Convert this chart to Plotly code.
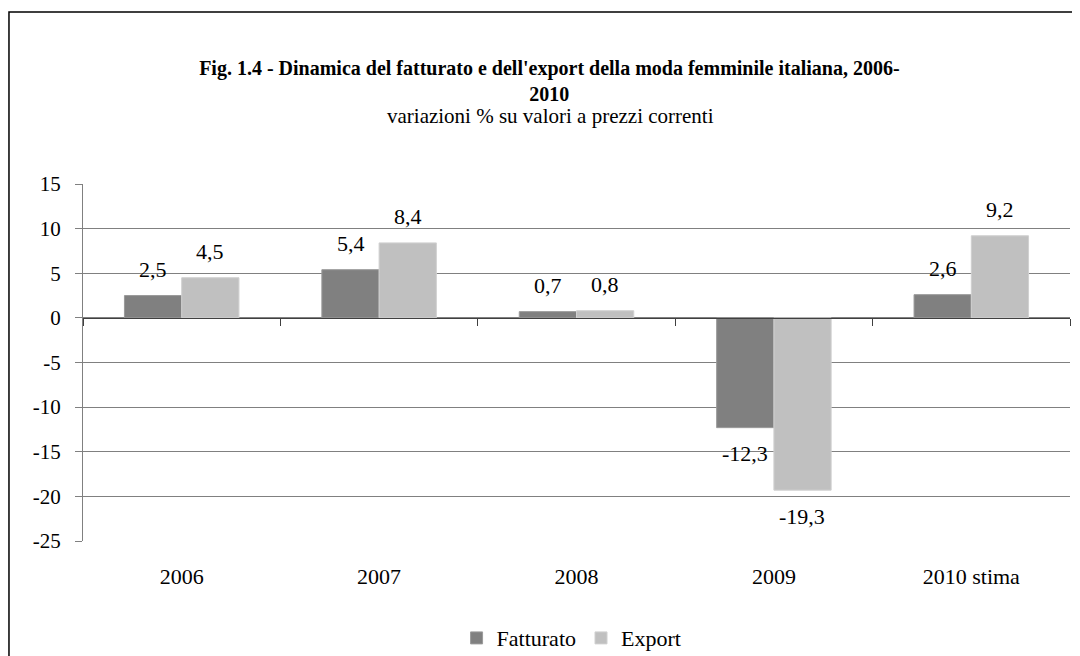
import plotly.graph_objects as go

years = ["2006", "2007", "2008", "2009", "2010 stima"]
fatturato = [2.5, 5.4, 0.7, -12.3, 2.6]
export = [4.5, 8.4, 0.8, -19.3, 9.2]
y_ticks = [15, 10, 5, 0, -5, -10, -15, -20, -25]

FONT = "Liberation Serif"
GRID = "#808080"


def label(v):
    return f"{v:.1f}".replace(".", ",")


fig = go.Figure()
fig.add_trace(go.Bar(
    x=years, y=fatturato, name="Fatturato",
    marker=dict(color="#808080", line=dict(color="#9a9a9a", width=1)),
))
fig.add_trace(go.Bar(
    x=years, y=export, name="Export",
    marker=dict(color="#c0c0c0", line=dict(color="#d0d0d0", width=1)),
))
# invisible trace that gives the zero axis its categories (tick marks on boundaries)
fig.add_trace(go.Scatter(
    x=years, y=[0] * len(years), xaxis="x2", mode="markers",
    marker=dict(opacity=0), hoverinfo="skip", showlegend=False,
))

# data labels at each bar end (category index, since "2006" would read as a number)
for vals, shift in [(fatturato, -28.5), (export, 28.5)]:
    for i, v in enumerate(vals):
        fig.add_annotation(
            x=i, y=v, xref="x", yref="y", text=label(v), showarrow=False,
            xshift=shift, yshift=26 if v >= 0 else -26,
            font=dict(family=FONT, size=22, color="black"),
        )

# subtitle
fig.add_annotation(
    x=0.474, y=1.19, xref="paper", yref="paper", xanchor="center", yanchor="middle",
    text="variazioni % su valori a prezzi correnti", showarrow=False,
    font=dict(family=FONT, size=21, color="black"),
)

# outer frame of the figure
fig.add_shape(
    type="rect", xref="paper", yref="paper",
    x0=-0.075, x1=1.03, y0=-0.4, y1=1.482,
    line=dict(color="black", width=1.5), layer="below",
)

fig.update_layout(
    width=1072, height=648,
    margin=dict(l=75, r=10, t=176, b=115, autoexpand=False),
    paper_bgcolor="white", plot_bgcolor="white",
    barmode="group", bargap=0.42, bargroupgap=0,
    font=dict(family=FONT, size=20, color="black"),
    title=dict(
        text="<b>Fig. 1.4 - Dinamica del fatturato e dell'export della moda femminile italiana, 2006-<br>2010</b>",
        x=0.505, xanchor="center", y=0.897, yanchor="top",
        font=dict(family=FONT, size=20, color="black"),
    ),
    xaxis=dict(
        range=[-0.5, 4.5], showline=False, showgrid=False, ticks="",
        ticklabelstandoff=20, tickfont=dict(size=22),
    ),
    xaxis2=dict(
        overlaying="x", anchor="free", position=0.625, range=[-0.5, 4.5],
        showline=True, linecolor="#404040", linewidth=1,
        ticks="outside", tickson="boundaries", ticklen=7, tickcolor="#404040",
        showticklabels=False, showgrid=False,
    ),
    yaxis=dict(
        range=[-25, 15], tickvals=y_ticks, ticktext=[str(v) for v in y_ticks],
        showgrid=True, gridcolor=GRID, gridwidth=1, zeroline=False,
        showline=True, linecolor=GRID, linewidth=1,
        ticks="outside", ticklen=7, tickcolor=GRID, ticklabelstandoff=10,
        tickfont=dict(size=21),
    ),
    legend=dict(
        orientation="h", x=0.495, xanchor="center", y=-0.272, yanchor="middle",
        font=dict(size=22), itemwidth=30,
    ),
)

fig.write_html("out.html")
